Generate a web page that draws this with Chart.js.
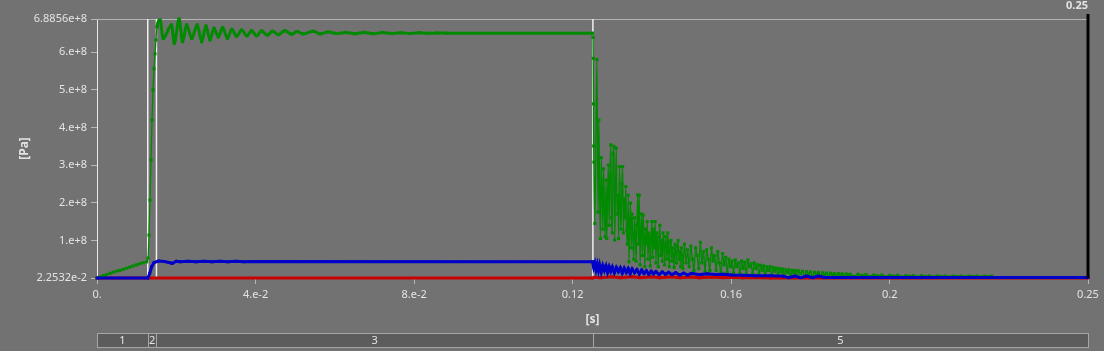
<!DOCTYPE html>
<html><head><meta charset="utf-8">
<script src="https://cdn.jsdelivr.net/npm/chart.js@4.4.1/dist/chart.umd.min.js"></script>
<style>html,body{margin:0;padding:0;background:#727272;overflow:hidden}canvas{display:block}</style>
</head><body>
<canvas id="c" width="1104" height="351"></canvas>
<script>
// ---- axis ticks ----
const xTickValues = [0, 0.04, 0.08, 0.12, 0.16, 0.2, 0.25];
const xTickLabels = ['0.', '4.e-2', '8.e-2', '0.12', '0.16', '0.2', '0.25'];
const yTickValues = [2.2532e-2, 1e8, 2e8, 3e8, 4e8, 5e8, 6e8, 6.8856e8];
const yTickLabels = ['2.2532e-2', '1.e+8', '2.e+8', '3.e+8', '4.e+8', '5.e+8', '6.e+8', '6.8856e+8'];
const xMin = 0, xMax = 0.25;
const yMin = 2.2532e-2, yMax = 6.8856e8;
const xTitle = '[s]';
const yTitle = '[Pa]';

// ---- phase markers ----
const markerTimes = [0.0128, 0.0150, 0.1251];
const phaseBounds = [0, 0.0128, 0.0150, 0.1251, 0.25];
const phaseLabels = ['1', '2', '3', '5'];
const cursorTime = 0.25;
const cursorLabel = '0.25';

// ---- green series ----
const greenT = [
 0, 0.0008, 0.0016, 0.0024, 0.0033, 0.0041, 0.0050, 0.0058, 0.0066, 0.0075, 0.0083, 0.0091, 0.0100, 0.0108, 0.0116, 0.0125,
 0.01287, 0.01312, 0.01337, 0.01362, 0.01388, 0.01413, 0.01438, 0.01463, 0.01488, 0.01514,
 0.0159, 0.0167, 0.0188, 0.0195, 0.0207, 0.0216, 0.0226, 0.0239, 0.0253, 0.0264, 0.0275, 0.0285, 0.0295, 0.0306, 0.0317, 0.0329,
 0.0340, 0.0352, 0.0365, 0.0378, 0.0390, 0.0403, 0.0415, 0.0430, 0.0443, 0.0457, 0.0474, 0.0491, 0.0504, 0.0520, 0.0546, 0.0563,
 0.0583, 0.0605, 0.0628, 0.0651, 0.0674, 0.0697, 0.0720, 0.0743, 0.0766, 0.0789, 0.0812, 0.0835, 0.0858, 0.0880, 0.1250,
 0.12515, 0.1252, 0.12525, 0.1253, 0.12535, 0.1256, 0.1261, 0.1264, 0.1266,
 0.1268, 0.1270, 0.1272, 0.1274, 0.1276, 0.1278, 0.1280, 0.1282, 0.1284, 0.1286, 0.1288, 0.1290, 0.1292, 0.1294, 0.1296, 0.1298,
 0.1300, 0.1302, 0.1304, 0.1306, 0.1308, 0.1310, 0.1312, 0.1314, 0.1316, 0.1318, 0.1320, 0.1322, 0.1324, 0.1326, 0.1328, 0.1330,
 0.1332, 0.1334, 0.1336, 0.1338, 0.1340, 0.1342, 0.1344, 0.1346, 0.1348, 0.1350, 0.1352, 0.1354, 0.1356, 0.1358, 0.1360, 0.1362,
 0.1364, 0.1366, 0.1368, 0.1370, 0.1372, 0.1374, 0.1376, 0.1378, 0.1380, 0.1382, 0.1384, 0.1386, 0.1388, 0.1390, 0.1392, 0.1394,
 0.1396, 0.1398, 0.1400, 0.1402, 0.1404, 0.1406, 0.1408, 0.1410, 0.1412, 0.1414, 0.1416, 0.1418, 0.1420, 0.1422, 0.1424, 0.1426,
 0.1428, 0.1430, 0.1432, 0.1434, 0.1436, 0.1438, 0.1440, 0.1442, 0.1444, 0.1446, 0.1448, 0.1450, 0.1452, 0.1454, 0.1456, 0.1458,
 0.1460, 0.1462, 0.1464, 0.1466, 0.1468, 0.1470, 0.1472, 0.1474, 0.1476, 0.1478,
 0.1482, 0.1486, 0.1490, 0.1494, 0.1498, 0.1502, 0.1506, 0.1510, 0.1514, 0.1518, 0.1522, 0.1526, 0.1530, 0.1534, 0.1538, 0.1542,
 0.1546, 0.1550, 0.1554, 0.1558, 0.1562, 0.1566, 0.1570, 0.1574, 0.1578, 0.1582, 0.1586, 0.1590, 0.1594, 0.1598, 0.1602, 0.1606,
 0.1610, 0.1614, 0.1618, 0.1622, 0.1626, 0.1630, 0.1634, 0.1638, 0.1642, 0.1646, 0.1650, 0.1654, 0.1658, 0.1662, 0.1666, 0.1670,
 0.1674, 0.1678, 0.1682, 0.1686, 0.1690, 0.1694, 0.1698, 0.1702, 0.1706, 0.1710, 0.1714, 0.1718, 0.1722, 0.1726, 0.1730, 0.1734,
 0.1738, 0.1742, 0.1746, 0.1750, 0.1754, 0.1758, 0.1762, 0.1766, 0.1770, 0.1775, 0.1780, 0.1785, 0.1790, 0.1795, 0.1800, 0.1805,
 0.1810, 0.1815, 0.1820, 0.1825, 0.1830, 0.1835, 0.1840, 0.1845, 0.1850, 0.1855, 0.1860, 0.1865, 0.1870, 0.1875, 0.1880, 0.1885,
 0.1890, 0.1895, 0.1900, 0.1910, 0.1920, 0.1930, 0.1940, 0.1950, 0.1960, 0.1970, 0.1980, 0.1990, 0.2000, 0.2010, 0.2020, 0.2030,
 0.2040, 0.2050, 0.2060, 0.2070, 0.2080, 0.2090, 0.2100, 0.2110, 0.2120, 0.2130, 0.2140, 0.2150, 0.2160, 0.2170, 0.2180, 0.2190,
 0.2200, 0.2210, 0.2220, 0.2230, 0.2240, 0.2250, 0.2257
];
const greenV = [
 0, 3e6, 6e6, 9e6, 1.25e7, 1.55e7, 1.85e7, 2.05e7, 2.3e7, 2.6e7, 2.9e7, 3.2e7, 3.5e7, 3.8e7, 4.05e7, 4.3e7,
 5.3e7, 1.14e8, 2.07e8, 3.14e8, 4.2e8, 5.0e8, 5.56e8, 5.96e8, 6.33e8, 6.67e8,
 6.86e8, 6.37e8, 6.73e8, 6.24e8, 6.8856e8, 6.28e8, 6.73e8, 6.37e8, 6.73e8, 6.28e8, 6.70e8, 6.33e8, 6.64e8, 6.41e8, 6.66e8, 6.37e8,
 6.61e8, 6.43e8, 6.59e8, 6.44e8, 6.57e8, 6.44e8, 6.57e8, 6.46e8, 6.56e8, 6.47e8, 6.57e8, 6.48e8, 6.55e8, 6.49e8, 6.56e8, 6.49e8,
 6.54e8, 6.50e8, 6.53e8, 6.495e8, 6.53e8, 6.495e8, 6.525e8, 6.50e8, 6.52e8, 6.50e8, 6.52e8, 6.505e8, 6.515e8, 6.51e8, 6.51e8,
 6.40e8, 5.84e8, 4.63e8, 3.51e8, 3.08e8, 1.45e8, 5.81e8, 1.75e8, 4.2e8,
 2.2e8, 1.05e8, 3.2e8, 2.4e8, 1.3e8, 2.9e8, 1.8e8, 1.1e8, 2.6e8, 1.05e8, 2.2e8, 3.0e8, 1.4e8, 2.7e8, 3.54e8, 1.6e8,
 1.2e8, 3.3e8, 3.5e8, 1.01e8, 2.4e8, 3.45e8, 1.7e8, 2.2e8, 1.05e8, 2.96e8, 2.0e8, 1.3e8, 2.5e8, 2.96e8, 1.2e8, 2.1e8,
 1.6e8, 2.43e8, 1.28e8, 0.9e8, 2.2e8, 0.43e8, 1.5e8, 1.99e8, 0.8e8, 1.7e8, 1.1e8, 0.5e8, 1.6e8, 1.2e8, 0.45e8, 1.4e8,
 2.21e8, 0.9e8, 2.2e8, 0.35e8, 1.2e8, 1.7e8, 0.6e8, 1.67e8, 1.1e8, 0.30e8, 1.3e8, 0.9e8, 1.5e8, 0.5e8, 1.2e8, 1.0e8,
 0.32e8, 1.1e8, 1.5e8, 0.55e8, 1.3e8, 0.8e8, 1.5e8, 0.4e8, 1.2e8, 0.9e8, 0.30e8, 1.1e8, 1.4e8, 0.6e8, 1.0e8, 0.45e8,
 1.2e8, 0.8e8, 0.35e8, 1.1e8, 0.9e8, 0.5e8, 1.2e8, 0.7e8, 0.3e8, 0.95e8, 1.0e8, 0.45e8, 0.8e8, 0.6e8, 0.28e8, 0.9e8,
 0.7e8, 0.4e8, 0.85e8, 1.0e8, 0.5e8, 0.7e8, 0.3e8, 0.8e8, 0.6e8, 0.25e8,
 0.9e8, 0.4e8, 0.75e8, 0.3e8, 0.85e8, 0.5e8, 0.2e8, 0.8e8, 0.6e8, 0.25e8, 0.95e8, 0.4e8, 0.7e8, 0.17e8, 0.75e8, 0.5e8,
 0.2e8, 0.8e8, 0.45e8, 0.6e8, 0.2e8, 0.7e8, 0.4e8, 0.15e8, 0.65e8, 0.35e8, 0.55e8, 0.15e8, 0.5e8, 0.3e8, 0.45e8, 0.13e8,
 0.48e8, 0.3e8, 0.4e8, 0.12e8, 0.45e8, 0.25e8, 0.42e8, 0.1e8, 0.48e8, 0.3e8, 0.38e8, 0.1e8, 0.4e8, 0.25e8, 0.35e8, 0.1e8,
 0.34e8, 0.2e8, 0.32e8, 0.09e8, 0.3e8, 0.2e8, 0.3e8, 0.08e8, 0.28e8, 0.18e8, 0.26e8, 0.08e8, 0.25e8, 0.16e8, 0.24e8, 0.07e8,
 0.22e8, 0.15e8, 0.22e8, 0.07e8, 0.2e8, 0.14e8, 0.2e8, 0.06e8, 0.19e8, 0.12e8, 0.18e8, 0.06e8, 0.17e8, 0.11e8, 0.16e8, 0.05e8,
 0.15e8, 0.1e8, 0.15e8, 0.05e8, 0.14e8, 0.09e8, 0.13e8, 0.04e8, 0.13e8, 0.08e8, 0.12e8, 0.04e8, 0.12e8, 0.08e8, 0.11e8, 0.04e8,
 0.11e8, 0.07e8, 0.1e8, 0.04e8, 0.1e8, 0.07e8, 0.09e8, 0.04e8, 0.08e8, 0.06e8, 0.08e8, 0.03e8, 0.07e8, 0.05e8, 0.07e8, 0.03e8,
 0.06e8, 0.05e8, 0.06e8, 0.03e8, 0.06e8, 0.04e8, 0.055e8, 0.03e8, 0.055e8, 0.04e8, 0.05e8, 0.03e8, 0.05e8, 0.04e8, 0.05e8, 0.03e8,
 0.05e8, 0.04e8, 0.05e8, 0.03e8, 0.05e8, 0.04e8, 0.05e8
];

// ---- blue series ----
const blueT = [
 0, 0.0128, 0.0133, 0.0138, 0.0144, 0.0155, 0.0170, 0.0190, 0.0200, 0.0210, 0.0230, 0.0250, 0.0270, 0.0290, 0.0310, 0.0330,
 0.0350, 0.0370, 0.0390, 0.1250,
 0.1253, 0.1256, 0.1259, 0.1262, 0.1265, 0.1268, 0.1272, 0.1276, 0.1280, 0.1284, 0.1288, 0.1292, 0.1296, 0.1300, 0.1305, 0.1310,
 0.1315, 0.1320, 0.1325, 0.1330, 0.1335, 0.1340, 0.1345, 0.1350, 0.1356, 0.1362, 0.1368, 0.1374, 0.1380, 0.1386, 0.1392, 0.1398,
 0.1404, 0.1410, 0.1418, 0.1426, 0.1434, 0.1442, 0.1450, 0.1460, 0.1470, 0.1480, 0.1490, 0.1500, 0.1520, 0.1540, 0.1560, 0.1580,
 0.1600, 0.1630, 0.1660, 0.1700, 0.1730, 0.1745, 0.1760, 0.1775, 0.1790, 0.1805, 0.1820, 0.1835, 0.1840, 0.1900, 0.2000, 0.2500
];
const blueV = [
 0, 0, 1.2e7, 3.0e7, 4.1e7, 4.5e7, 4.4e7, 3.9e7, 4.45e7, 4.3e7, 4.45e7, 4.3e7, 4.45e7, 4.3e7, 4.45e7, 4.3e7,
 4.45e7, 4.3e7, 4.4e7, 4.33e7,
 2.8e7, 3.9e7, 2.2e7, 3.6e7, 2.0e7, 3.5e7, 1.6e7, 3.3e7, 2.0e7, 3.2e7, 1.5e7, 3.0e7, 1.8e7, 2.9e7, 1.4e7, 2.8e7,
 1.7e7, 2.7e7, 1.3e7, 2.6e7, 1.5e7, 2.5e7, 1.2e7, 2.4e7, 1.4e7, 2.2e7, 1.1e7, 2.1e7, 1.2e7, 1.9e7, 1.0e7, 1.8e7,
 1.1e7, 1.7e7, 0.9e7, 1.6e7, 1.0e7, 1.5e7, 0.9e7, 1.4e7, 0.8e7, 1.3e7, 0.8e7, 1.25e7, 0.9e7, 1.1e7, 0.9e7, 1.0e7,
 0.8e7, 0.7e7, 0.6e7, 0.6e7, 0.5e7, 0.1e7, 0.5e7, 0.1e7, 0.5e7, 0.1e7, 0.5e7, 0.15e7, 0.15e7, 0.12e7, 0.1e7, 0.1e7
];

// ---- red series ----
const redT = [0, 0.1250, 0.1255, 0.1270, 0.1300, 0.1320, 0.1350, 0.1370, 0.1400, 0.1420, 0.1450, 0.1470, 0.1500, 0.1520, 0.1550, 0.1580, 0.1600, 0.1630, 0.1660, 0.1700, 0.2500];
const redV = [2.2532e-2, 2.2532e-2, 2e6, 0.5e6, 3e6, 0.5e6, 3.5e6, 1e6, 3e6, 0.5e6, 3e6, 1e6, 2.5e6, 0.5e6, 2.5e6, 1e6, 2e6, 0.5e6, 1.5e6, 2.2532e-2, 2.2532e-2];

const toPts = (T, V) => T.map((t, i) => ({x: t, y: V[i]}));

const TEXT = '#e4e4e4';
const TICKC = '#b8b8b8';
const FONT = 'Noto Sans';

const decor = {
  id: 'decor',
  beforeDraw(chart) {
    const {ctx} = chart;
    ctx.save();
    ctx.fillStyle = '#727272';
    ctx.fillRect(0, 0, chart.width, chart.height);
    ctx.restore();
  },
  beforeDatasetsDraw(chart) {
    const {ctx, chartArea: a, scales: {x}} = chart;
    ctx.save();
    ctx.strokeStyle = '#b4b4b4';
    ctx.lineWidth = 1;
    ctx.beginPath();
    ctx.moveTo(a.left, a.top + 0.5);
    ctx.lineTo(a.right, a.top + 0.5);
    ctx.stroke();
    ctx.strokeStyle = '#f0f0f0';
    ctx.lineWidth = 1.5;
    markerTimes.forEach(t => {
      const px = x.getPixelForValue(t);
      ctx.beginPath();
      ctx.moveTo(px, a.top);
      ctx.lineTo(px, a.bottom);
      ctx.stroke();
    });
    ctx.restore();
  },
  afterDatasetsDraw(chart) {
    const {ctx, chartArea: a, scales: {x}} = chart;
    ctx.save();
    const cx = x.getPixelForValue(cursorTime);
    ctx.strokeStyle = '#000000';
    ctx.lineWidth = 3;
    ctx.beginPath();
    ctx.moveTo(cx, a.top - 5);
    ctx.lineTo(cx, a.bottom);
    ctx.stroke();
    ctx.fillStyle = TEXT;
    ctx.font = 'bold 11px "' + FONT + '"';
    ctx.textAlign = 'right';
    ctx.textBaseline = 'middle';
    ctx.fillText(cursorLabel, cx, a.top - 13);

    const top = a.bottom + 55, h = 14;
    const l = x.getPixelForValue(phaseBounds[0]);
    const r = x.getPixelForValue(phaseBounds[phaseBounds.length - 1]);
    ctx.fillStyle = '#5c5c5c';
    ctx.fillRect(l, top, r - l, h);
    ctx.strokeStyle = '#a6a6a6';
    ctx.lineWidth = 1;
    ctx.strokeRect(l + 0.5, top + 0.5, r - l, h);
    ctx.font = '11px "' + FONT + '"';
    ctx.textAlign = 'center';
    ctx.textBaseline = 'middle';
    for (let i = 0; i < phaseLabels.length; i++) {
      const p0 = x.getPixelForValue(phaseBounds[i]);
      const p1 = x.getPixelForValue(phaseBounds[i + 1]);
      if (i > 0) {
        ctx.beginPath();
        ctx.moveTo(Math.round(p0) + 0.5, top);
        ctx.lineTo(Math.round(p0) + 0.5, top + h);
        ctx.stroke();
      }
      ctx.fillStyle = TEXT;
      ctx.fillText(phaseLabels[i], (p0 + p1) / 2, top + h / 2 + 1);
    }
    ctx.restore();
  }
};

Chart.defaults.font.family = FONT;
Chart.defaults.font.size = 11;
Chart.defaults.color = TEXT;

new Chart(document.getElementById('c'), {
  type: 'line',
  data: {
    datasets: [
      {
        label: 'blue', data: toPts(blueT, blueV),
        borderColor: '#0000c8', backgroundColor: '#0000c8',
        borderWidth: 3, pointStyle: 'rect', pointRadius: 2, pointBorderWidth: 0,
        tension: 0, clip: 4
      },
      {
        label: 'green', data: toPts(greenT, greenV),
        borderColor: '#008a00', backgroundColor: '#008a00',
        borderWidth: 1.3, pointStyle: 'rect', pointRadius: 2.2, pointBorderWidth: 0,
        cubicInterpolationMode: 'monotone', clip: 4,
        segment: {
          borderWidth: c => (c.p0.parsed.x >= 0.01514 && c.p1.parsed.x <= 0.1250) ? 3 : 1.3
        }
      },
      {
        label: 'red', data: toPts(redT, redV),
        borderColor: '#c80000', backgroundColor: '#c80000',
        borderWidth: 3, pointStyle: 'rect', pointRadius: 2, pointBorderWidth: 0,
        tension: 0, clip: 4
      }
    ]
  },
  options: {
    responsive: false,
    animation: false,
    devicePixelRatio: 1,
    layout: {padding: {left: 0, top: 19, right: 16, bottom: 0}},
    plugins: {legend: {display: false}, tooltip: {enabled: false}},
    scales: {
      x: {
        type: 'linear', min: xMin, max: xMax,
        afterFit: s => { s.height = 73; },
        afterBuildTicks: s => { s.ticks = xTickValues.map(v => ({value: v})); },
        ticks: {
          autoSkip: false, maxRotation: 0, padding: 4, color: TEXT,
          callback: (v) => { const i = xTickValues.indexOf(v); return i >= 0 ? xTickLabels[i] : ''; }
        },
        grid: {drawOnChartArea: false, drawTicks: true, tickLength: 6, color: TICKC},
        border: {display: false},
        title: {display: true, text: xTitle, color: TEXT, font: {weight: 'bold', size: 12}, padding: {top: 0, bottom: 24}}
      },
      y: {
        type: 'linear', min: yMin, max: yMax,
        afterFit: s => { s.width = 97; },
        afterBuildTicks: s => { s.ticks = yTickValues.map(v => ({value: v})); },
        ticks: {
          autoSkip: false, padding: 4, color: TEXT,
          callback: (v) => { const i = yTickValues.indexOf(v); return i >= 0 ? yTickLabels[i] : ''; }
        },
        grid: {drawOnChartArea: false, drawTicks: true, tickLength: 6, color: TICKC},
        border: {display: true, color: '#e8e8e8', width: 1},
        title: {display: true, text: yTitle, color: TEXT, font: {weight: 'bold', size: 12}, padding: {top: 17, bottom: 0}}
      }
    }
  },
  plugins: [decor]
});
</script>
</body></html>
